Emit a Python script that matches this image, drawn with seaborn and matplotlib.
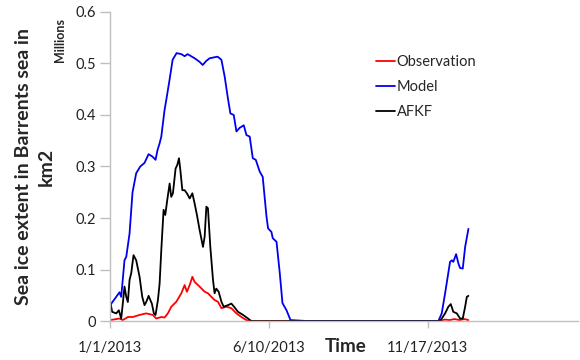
import numpy as np
import pandas as pd
import matplotlib
matplotlib.use("Agg")
import matplotlib.pyplot as plt
import seaborn as sns

# ---- data (days since 1/1/2013, values in millions km2) ----
model_days = [0, 9.4, 11.1, 14.4, 16.2, 19.5, 22.5, 26.2, 30.3, 34.6, 38.7, 42.7, 45.7, 47.7,
              49.8, 51.5, 54.8, 56.5, 59.8, 62.9, 66.9, 71.7, 75.0, 78.0, 85.1, 90.1, 93.2,
              96.9, 100.2, 105.2, 108.3, 112.1, 115.4, 118.4, 121.1, 124.5, 127.2, 130.5,
              134.6, 137.3, 140.6, 143.7, 146.7, 150.7, 153.7, 157.5, 159.1, 162.5, 163.8,
              167.6, 170.9, 173.6, 177.7, 181.7, 200, 260, 330.7, 334.1, 337.5, 342.5, 344.2,
              345.8, 348.6, 350.9, 352.6, 355.3, 357.7, 361.0]
model_vals = [0.031, 0.056, 0.047, 0.118, 0.125, 0.17, 0.25, 0.287, 0.30, 0.307, 0.324, 0.319,
              0.313, 0.332, 0.345, 0.358, 0.41, 0.429, 0.468, 0.507, 0.52, 0.518, 0.514, 0.518,
              0.51, 0.503, 0.497, 0.505, 0.51, 0.512, 0.513, 0.507, 0.474, 0.435, 0.403, 0.40,
              0.368, 0.375, 0.38, 0.361, 0.358, 0.316, 0.313, 0.29, 0.28, 0.203, 0.18, 0.173,
              0.161, 0.154, 0.093, 0.035, 0.021, 0.002, 0.0, 0.0, 0.0, 0.015, 0.054, 0.115,
              0.118, 0.115, 0.13, 0.112, 0.103, 0.102, 0.144, 0.179]

afkf_days = [0, 2.0, 6.1, 8.7, 11.1, 12.7, 14.4, 16.2, 17.8, 19.5, 21.2, 23.5, 26.2, 29.6, 32.3,
             34.6, 36.3, 38.7, 40.4, 42.0, 44.0, 45.7, 48.1, 49.8, 51.5, 53.8, 55.5, 57.5, 59.9,
             61.5, 63.2, 65.9, 67.6, 69.3, 70.7, 72.7, 75.0, 77.3, 80.1, 82.8, 85.1, 87.4, 90.1,
             93.5, 95.2, 96.9, 98.5, 100.9, 103.6, 105.2, 106.9, 109.3, 112.1, 114.4, 118.7,
             122.1, 124.8, 128.8, 133.9, 138.9, 142.3, 200, 260, 332.4, 337.5, 340.8, 343.2,
             345.8, 349.3, 352.6, 355.3, 357.7, 359.4, 361.0]
afkf_vals = [0.0375, 0.018, 0.015, 0.021, 0.005, 0.034, 0.067, 0.047, 0.037, 0.08, 0.093, 0.128,
             0.118, 0.086, 0.047, 0.031, 0.037, 0.049, 0.041, 0.034, 0.015, 0.012, 0.041, 0.073,
             0.138, 0.216, 0.206, 0.235, 0.267, 0.241, 0.248, 0.296, 0.303, 0.316, 0.293, 0.254,
             0.254, 0.248, 0.238, 0.248, 0.228, 0.206, 0.177, 0.144, 0.164, 0.222, 0.219, 0.144,
             0.08, 0.054, 0.063, 0.057, 0.0375, 0.028, 0.031, 0.034, 0.028, 0.018, 0.012, 0.005,
             0.0, 0.0, 0.0, 0.0, 0.015, 0.028, 0.033, 0.018, 0.015, 0.005, 0.005, 0.028, 0.047,
             0.049]

obs_days = [0, 9.4, 12.7, 17.8, 22.8, 29.6, 36.3, 43.0, 46.4, 51.5, 54.8, 58.1, 61.6, 66.6,
            71.7, 75.0, 77.3, 80.1, 82.8, 85.1, 90.1, 95.2, 98.5, 102.0, 105.2, 108.6, 112.1,
            117.1, 122.1, 127.2, 132.2, 137.3, 140.6, 200, 260, 332, 337, 342, 347, 352, 357, 361]
obs_vals = [0.002, 0.005, 0.002, 0.008, 0.008, 0.012, 0.015, 0.012, 0.005, 0.008, 0.007, 0.015,
            0.028, 0.0375, 0.054, 0.07, 0.057, 0.07, 0.086, 0.076, 0.067, 0.057, 0.054, 0.047,
            0.041, 0.0375, 0.025, 0.028, 0.025, 0.015, 0.008, 0.002, 0.0, 0.0, 0.0, 0.0, 0.003,
            0.002, 0.004, 0.002, 0.004, 0.002]

series_names = ["Observation", "Model", "AFKF"]
series_colors = ["#FF0000", "#0000F0", "#000000"]
tick_days = [0, 160, 320]
tick_labels = ["1/1/2013", "6/10/2013", "11/17/2013"]
y_ticks = [0, 0.1, 0.2, 0.3, 0.4, 0.5, 0.6]
y_tick_labels = ["0", "0.1", "0.2", "0.3", "0.4", "0.5", "0.6"]

df = pd.concat([
    pd.DataFrame({"day": obs_days, "value": obs_vals, "series": "Observation"}),
    pd.DataFrame({"day": model_days, "value": model_vals, "series": "Model"}),
    pd.DataFrame({"day": afkf_days, "value": afkf_vals, "series": "AFKF"}),
], ignore_index=True)

sns.set_style("white")
plt.rcParams["font.family"] = ["Lato", "DejaVu Sans"]

fig = plt.figure(figsize=(5.8, 3.6), dpi=100)
ax = fig.add_axes([0.19, 0.108, 0.807, 0.859])

sns.lineplot(data=df, x="day", y="value", hue="series", hue_order=series_names,
             palette=dict(zip(series_names, series_colors)), linewidth=1.3, ax=ax,
             estimator=None, sort=False)

ax.set_xlim(0, 471.7)
ax.set_ylim(0, 0.6)
ax.set_xticks(tick_days)
ax.set_xticklabels(tick_labels, fontsize=10.5)
ax.set_yticks(y_ticks)
ax.set_yticklabels(y_tick_labels, fontsize=10.5)

for s in ["top", "right"]:
    ax.spines[s].set_visible(False)
for s in ["left", "bottom"]:
    ax.spines[s].set_color("#BFBFBF")
    ax.spines[s].set_linewidth(1.0)
ax.tick_params(axis="y", which="both", direction="out", length=7, width=1,
               color="#BFBFBF", labelcolor="#222222", left=True, pad=3)
ax.tick_params(axis="x", which="both", direction="out", length=5, width=1,
               color="#BFBFBF", labelcolor="#222222", bottom=True, pad=9)

ax.set_xlabel("Time", fontsize=13.5, fontweight="bold")
ax.xaxis.set_label_coords(0.502, -0.055)
ax.set_ylabel("Sea ice extent in Barrents sea in\nkm2", fontsize=14, fontweight="bold",
              labelpad=15, linespacing=1.45)
fig.text(0.104, 0.888, "Millions", rotation=90, fontsize=9, fontweight="bold",
         ha="center", va="center")

leg = ax.legend(loc="upper left", bbox_to_anchor=(0.54, 0.902), frameon=False,
                fontsize=10.5, handlelength=1.3, handletextpad=0.1, labelspacing=0.75)
for line in leg.get_lines():
    line.set_linewidth(1.3)

fig.savefig("out.png", dpi=100)
